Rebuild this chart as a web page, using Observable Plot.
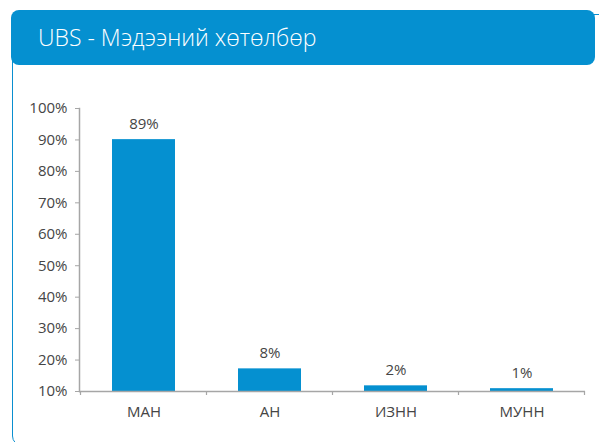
<!DOCTYPE html>
<html><head><meta charset="utf-8">
<script src="https://cdn.jsdelivr.net/npm/d3@7"></script>
<script src="https://cdn.jsdelivr.net/npm/@observablehq/plot@0.6"></script>
<style>
body{margin:0;background:#fff;}
#wrap{position:relative;width:599px;height:442px;overflow:hidden;font-family:"Open Sans",sans-serif;}
#chart{position:absolute;left:0;top:0;}
#chart svg text{font-size:15px;}
#frame{position:absolute;left:12px;top:14px;width:700px;height:432px;border:1.5px solid #0a8fd0;border-radius:10px;box-sizing:border-box;pointer-events:none;}
#header{position:absolute;left:11px;top:10px;width:584px;height:55px;background:#0590d0;border-radius:8px;box-sizing:border-box;padding-left:27px;color:#fff;font-size:23px;font-weight:300;line-height:55px;white-space:nowrap;}
</style></head>
<body><div id="wrap"><div id="chart"></div><div id="frame"></div><div id="header">UBS - Мэдээний хөтөлбөр</div></div>
<script>
const title = "UBS - Мэдээний хөтөлбөр";
const categories = ["МАН", "АН", "ИЗНН", "МУНН"];
const values = [89, 8, 2, 1];
const valueLabels = ["89%", "8%", "2%", "1%"];
const tickLabels = ["10%", "20%", "30%", "40%", "50%", "60%", "70%", "80%", "90%", "100%"];

const data = categories.map((c, i) => ({cat: c, v: values[i], label: valueLabels[i]}));
const step = 100 / (tickLabels.length - 1);
const tickPos = tickLabels.map((_, i) => i * step);

const axisGray = "#a6a6a6";
const textColor = "#454545";
const barColor = "#0590d0";

const chart = Plot.plot({
  width: 599, height: 442,
  marginLeft: 79, marginRight: 14, marginTop: 108, marginBottom: 51,
  style: {fontFamily: "Open Sans", fontSize: "15px", color: textColor, background: "transparent"},
  x: {domain: categories, paddingInner: 0.5, paddingOuter: 0.25, label: null},
  y: {domain: [0, 100], label: null},
  marks: [
    Plot.barY(data, {x: "cat", y: "v", fill: barColor}),
    Plot.text(data, {x: "cat", y: "v", text: "label", dy: -11, lineAnchor: "bottom", fill: textColor, fontSize: 15}),
    Plot.axisY({ticks: tickPos, tickFormat: d => tickLabels[Math.round(d / step)], tickSize: 4, tickPadding: 8, stroke: axisGray, fill: textColor, fontSize: 15}),
    Plot.axisX({tickSize: 0, tickPadding: 15, fill: textColor, fontSize: 15}),
    Plot.frame({anchor: "left", stroke: axisGray, strokeWidth: 1.5}),
    Plot.ruleY([0], {stroke: axisGray, strokeWidth: 1.5})
  ]
});
document.getElementById("chart").append(chart);

// category boundary tick marks below the x axis (Excel style), placed via Plot's scales
const sx = chart.scale("x"), sy = chart.scale("y");
const y0 = sy.apply(0);
const gap = (sx.step - sx.bandwidth) / 2;
const bounds = categories.map(c => sx.apply(c) - gap);
bounds.push(sx.apply(categories[categories.length - 1]) + sx.bandwidth + gap);
d3.select(chart).append("g").selectAll("line").data(bounds).join("line")
  .attr("x1", d => d).attr("x2", d => d).attr("y1", y0).attr("y2", y0 + 4)
  .attr("stroke", axisGray).attr("stroke-width", 1.2);
</script></body></html>
